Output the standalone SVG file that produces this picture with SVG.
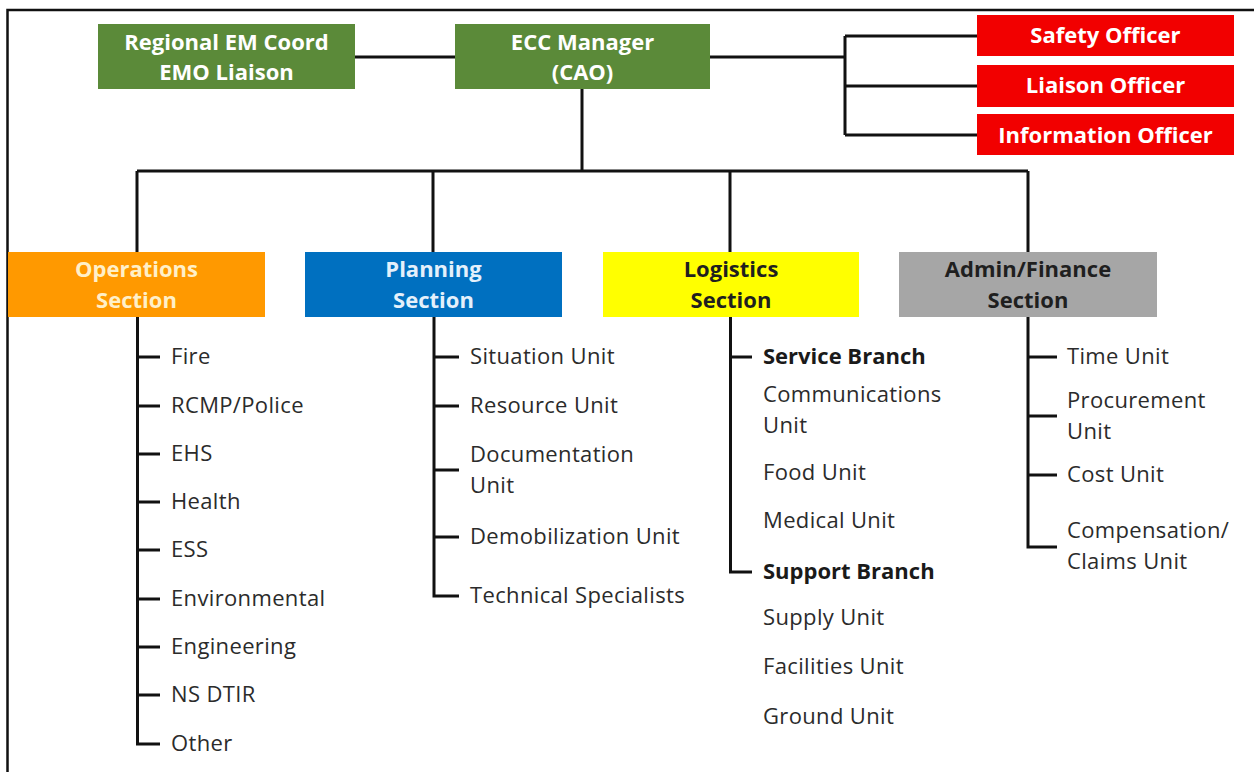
<svg xmlns="http://www.w3.org/2000/svg" width="1254" height="772" viewBox="0 0 1254 772">
<style>
.box text{font-family:"Open Sans","Noto Sans",sans-serif;font-weight:bold;font-size:22px;text-anchor:middle}
.w{fill:#ffffff}
.op{fill:#fff0c8}
.pl{fill:#e4f0fb}
.dk{fill:#1f1f1f}
.item{font-family:"Open Sans","Noto Sans",sans-serif;font-size:22px;letter-spacing:0.35px;fill:#2b2b2b}
.b{font-weight:bold;fill:#1a1a1a;letter-spacing:0}
.ln{stroke:#111;stroke-width:3;fill:none}
</style>
<rect x="0" y="0" width="1254" height="772" fill="#ffffff"/>
<path d="M7.5 772 V10 H1254" stroke="#111" stroke-width="2.5" fill="none"/>

<g id="connectors" class="ln">
<path d="M355 57 H455"/>
<path d="M710 57 H845"/>
<path d="M845 36 V135 M845 36 H977 M845 86 H977 M845 135 H977"/>
<path d="M582 89 V171"/>
<path d="M137 171 H1028"/>
<path d="M137 171 V252 M433 171 V252 M730 171 V252 M1028 171 V252"/>
<path d="M137.5 317 V744 H160 M137.5 357 H160 M137.5 406 H160 M137.5 454 H160 M137.5 502 H160 M137.5 550 H160 M137.5 599 H160 M137.5 647 H160 M137.5 695 H160"/>
<path d="M434 317 V596 H459 M434 357 H459 M434 406 H459 M434 470 H459 M434 537 H459"/>
<path d="M730.5 317 V572 H752 M730.5 357 H752"/>
<path d="M1028 317 V547 H1057 M1028 357 H1057 M1028 416 H1057 M1028 475 H1057"/>
</g>

<g id="regional" class="box">
<rect x="98" y="24" width="257" height="65" fill="#5b8a39"/>
<text class="w" x="226.5" y="50">Regional EM Coord</text>
<text class="w" x="226.5" y="80">EMO Liaison</text>
</g>
<g id="ecc" class="box">
<rect x="455" y="24" width="255" height="65" fill="#5b8a39"/>
<text class="w" x="582.5" y="50">ECC Manager</text>
<text class="w" x="582.5" y="80">(CAO)</text>
</g>
<g id="safety" class="box">
<rect x="977" y="15" width="257" height="41" fill="#f20000"/>
<text class="w" x="1105.5" y="43">Safety Officer</text>
</g>
<g id="liaison" class="box">
<rect x="977" y="65" width="257" height="42" fill="#f20000"/>
<text class="w" x="1105.5" y="93">Liaison Officer</text>
</g>
<g id="information" class="box">
<rect x="977" y="114" width="257" height="41" fill="#f20000"/>
<text class="w" x="1105.5" y="143">Information Officer</text>
</g>

<g id="operations" class="box">
<rect x="8" y="252" width="257" height="65" fill="#ff9900"/>
<text class="op" x="136.5" y="277">Operations</text>
<text class="op" x="136.5" y="308">Section</text>
</g>
<g id="planning" class="box">
<rect x="305" y="252" width="257" height="65" fill="#0070c0"/>
<text class="pl" x="433.5" y="277">Planning</text>
<text class="pl" x="433.5" y="308">Section</text>
</g>
<g id="logistics" class="box">
<rect x="603" y="252" width="256" height="65" fill="#ffff00"/>
<text class="dk" x="731" y="277">Logistics</text>
<text class="dk" x="731" y="308">Section</text>
</g>
<g id="admin" class="box">
<rect x="899" y="252" width="258" height="65" fill="#a6a6a6"/>
<text class="dk" x="1028" y="277">Admin/Finance</text>
<text class="dk" x="1028" y="308">Section</text>
</g>

<g id="operations-items" class="item">
<text x="171" y="364">Fire</text>
<text x="171" y="413">RCMP/Police</text>
<text x="171" y="461">EHS</text>
<text x="171" y="509">Health</text>
<text x="171" y="557">ESS</text>
<text x="171" y="606">Environmental</text>
<text x="171" y="654">Engineering</text>
<text x="171" y="702">NS DTIR</text>
<text x="171" y="751">Other</text>
</g>
<g id="planning-items" class="item">
<text x="470" y="364">Situation Unit</text>
<text x="470" y="413">Resource Unit</text>
<text x="470" y="462">Documentation</text>
<text x="470" y="493">Unit</text>
<text x="470" y="544">Demobilization Unit</text>
<text x="470" y="603">Technical Specialists</text>
</g>
<g id="logistics-items" class="item">
<text class="b" x="763" y="364">Service Branch</text>
<text x="763" y="402">Communications</text>
<text x="763" y="433">Unit</text>
<text x="763" y="480">Food Unit</text>
<text x="763" y="528">Medical Unit</text>
<text class="b" x="763" y="579">Support Branch</text>
<text x="763" y="625">Supply Unit</text>
<text x="763" y="674">Facilities Unit</text>
<text x="763" y="724">Ground Unit</text>
</g>
<g id="admin-items" class="item">
<text x="1067" y="364">Time Unit</text>
<text x="1067" y="408">Procurement</text>
<text x="1067" y="439">Unit</text>
<text x="1067" y="482">Cost Unit</text>
<text x="1067" y="538">Compensation/</text>
<text x="1067" y="569">Claims Unit</text>
</g>
</svg>
